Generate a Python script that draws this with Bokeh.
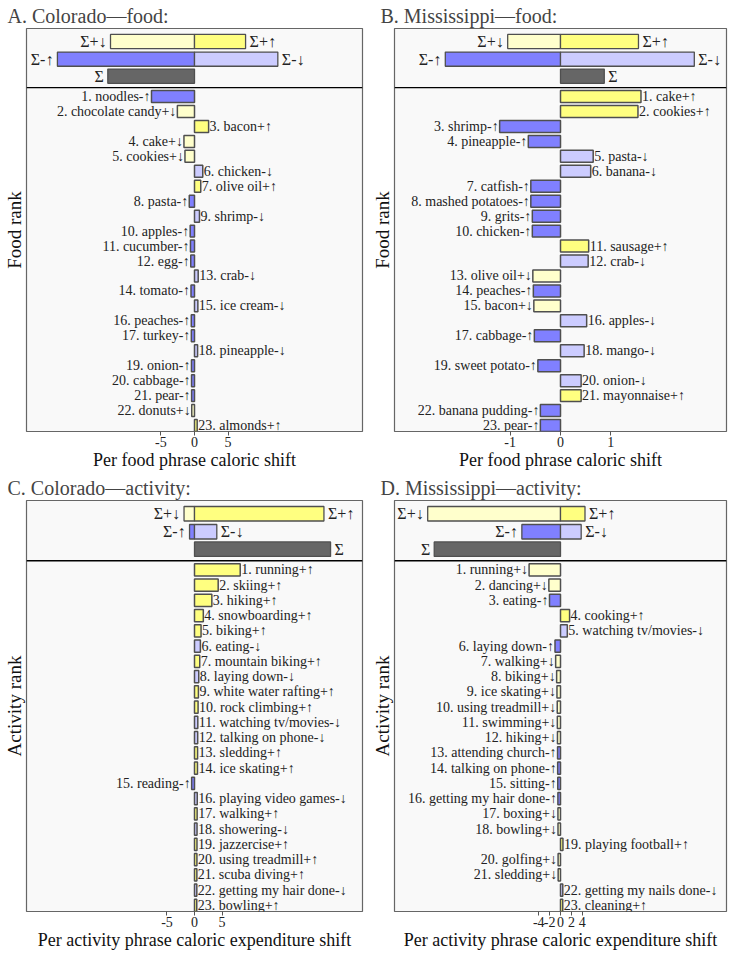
from bokeh.plotting import figure
from bokeh.models import Range1d, FixedTicker, Span, ColumnDataSource
from bokeh.layouts import column, row
from bokeh.embed import file_html
from bokeh.resources import INLINE
from bokeh.core.properties import value

# ---------------- data ----------------
# Panel A: Colorado - food
a_items = ["noodles-↑", "chocolate candy+↓", "bacon+↑", "cake+↓", "cookies+↓", "chicken-↓",
           "olive oil+↑", "pasta-↑", "shrimp-↓", "apples-↑", "cucumber-↑", "egg-↑", "crab-↓",
           "tomato-↑", "ice cream-↓", "peaches-↑", "turkey-↑", "pineapple-↓", "onion-↑",
           "cabbage-↑", "pear-↑", "donuts+↓", "almonds+↑"]
a_vals = [-6.4, -2.55, 2.1, -1.57, -1.42, 1.23, 0.93, -0.78, 0.74, -0.64, -0.6, -0.56, 0.55,
          -0.52, 0.5, -0.48, -0.47, 0.46, -0.45, -0.44, -0.43, -0.41, 0.4]
a_sum = {"Σ+↓": -12.5, "Σ+↑": 7.6, "Σ-↑": -20.4, "Σ-↓": 12.4, "Σ": -12.9}
a_ticks = [-5, 0, 5]

# Panel B: Mississippi - food
b_items = ["cake+↑", "cookies+↑", "shrimp-↑", "pineapple-↑", "pasta-↓", "banana-↓", "catfish-↑",
           "mashed potatoes-↑", "grits-↑", "chicken-↑", "sausage+↑", "crab-↓", "olive oil+↓",
           "peaches-↑", "bacon+↓", "apples-↓", "cabbage-↑", "mango-↓", "sweet potato-↑",
           "onion-↓", "mayonnaise+↑", "banana pudding-↑", "pear-↑"]
b_vals = [1.6, 1.54, -1.21, -0.64, 0.65, 0.6, -0.59, -0.59, -0.56, -0.56, 0.56, 0.55, -0.55,
          -0.54, -0.53, 0.52, -0.52, 0.47, -0.45, 0.41, 0.41, -0.4, -0.4]
b_sum = {"Σ+↓": -1.05, "Σ+↑": 1.55, "Σ-↑": -2.29, "Σ-↓": 2.66, "Σ": 0.87}
b_ticks = [-1, 0, 1]

# Panel C: Colorado - activity
c_items = ["running+↑", "skiing+↑", "hiking+↑", "snowboarding+↑", "biking+↑", "eating-↓",
           "mountain biking+↑", "laying down-↓", "white water rafting+↑", "rock climbing+↑",
           "watching tv/movies-↓", "talking on phone-↓", "sledding+↑", "ice skating+↑",
           "reading-↑", "playing video games-↓", "walking+↑", "showering-↓", "jazzercise+↑",
           "using treadmill+↑", "scuba diving+↑", "getting my hair done-↓", "bowling+↑"]
c_vals = [8.3, 4.3, 3.15, 1.6, 1.19, 1.07, 0.95, 0.77, 0.71, 0.65, 0.6, 0.58, 0.56, 0.54,
          -0.52, 0.5, 0.48, 0.46, 0.45, 0.44, 0.43, 0.42, 0.41]
c_sum = {"Σ+↓": -1.9, "Σ+↑": 23.5, "Σ-↑": -0.9, "Σ-↓": 4.05, "Σ": 24.7}
c_ticks = [-5, 0, 5]

# Panel D: Mississippi - activity
d_items = ["running+↓", "dancing+↓", "eating-↑", "cooking+↑", "watching tv/movies-↓",
           "laying down-↑", "walking+↓", "biking+↓", "ice skating+↓", "using treadmill+↓",
           "swimming+↓", "hiking+↓", "attending church-↑", "talking on phone-↑", "sitting-↑",
           "getting my hair done-↑", "boxing+↓", "bowling+↓", "playing football+↑",
           "golfing+↓", "sledding+↓", "getting my nails done-↓", "cleaning+↑"]
d_vals = [-5.77, -2.14, -2.02, 1.67, 1.25, -1.01, -0.89, -0.71, -0.65, -0.6, -0.58, -0.56,
          -0.54, -0.52, -0.5, -0.48, -0.47, -0.46, 0.45, -0.44, -0.43, 0.42, 0.41]
d_sum = {"Σ+↓": -24.4, "Σ+↑": 4.5, "Σ-↑": -7.1, "Σ-↓": 3.8, "Σ": -23.2}
d_ticks = [-4, -2, 0, 2, 4]

titles = ["A. Colorado—food:", "B. Mississippi—food:", "C. Colorado—activity:", "D. Mississippi—activity:"]
xlabels = ["Per food phrase caloric shift", "Per food phrase caloric shift",
           "Per activity phrase caloric expenditure shift", "Per activity phrase caloric expenditure shift"]
ylabels = ["Food rank", "Food rank", "Activity rank", "Activity rank"]
xlims = [25.0, 3.3, 30.5, 30.5]

# ---------------- style ----------------
FONT = "'Liberation Serif', 'DejaVu Serif', serif"
BASE = {"+↑": "#ffff80", "+↓": "#ffffcc", "-↑": "#8080ff", "-↓": "#ccccff", "Σ": "#666666"}
EDGE = "#4f4f4f"

Y_TOP, Y_BOT = 3.55, -23.4
Y_SPLUS, Y_SMINUS, Y_SIG, Y_DIV = 2.68, 1.5, 0.36, -0.4


def panel(title, items, vals, sums, ticks, xlim, xlabel, ylabel, left_border, title_off, height):
    p = figure(width=364, height=height, output_backend="svg", toolbar_location=None,
               x_range=Range1d(-xlim, xlim), y_range=Range1d(Y_BOT, Y_TOP),
               min_border_left=left_border, min_border_right=2, min_border_top=2,
               min_border_bottom=0)
    p.title.text = title
    p.title.text_font = FONT
    p.title.text_font_size = "20px"
    p.title.text_font_style = "normal"
    p.title.offset = title_off
    p.title.standoff = 4
    p.grid.visible = False
    p.background_fill_color = "#f9f9f9"
    p.border_fill_color = "white"
    p.outline_line_color = "#666666"
    p.outline_line_width = 1.2

    xa = p.xaxis[0]
    xa.ticker = FixedTicker(ticks=ticks)
    xa.major_label_overrides = {t: str(t) for t in ticks}
    xa.axis_line_color = None
    xa.major_tick_line_color = "#555555"
    xa.major_tick_out = 4
    xa.major_tick_in = 0
    xa.minor_tick_line_color = None
    xa.major_label_text_font = FONT
    xa.major_label_text_font_size = "14px"
    xa.major_label_text_color = "#222222"
    xa.major_label_standoff = 1
    xa.axis_label = xlabel
    xa.axis_label_text_font = FONT
    xa.axis_label_text_font_size = "18px"
    xa.axis_label_text_font_style = "normal"
    xa.axis_label_text_color = "#111111"
    xa.axis_label_standoff = 0

    ya = p.yaxis[0]
    ya.ticker = FixedTicker(ticks=[])
    ya.axis_line_color = None
    ya.major_tick_line_color = None
    ya.minor_tick_line_color = None
    ya.axis_label = ylabel
    ya.axis_label_text_font = FONT
    ya.axis_label_text_font_size = "19px"
    ya.axis_label_text_font_style = "normal"
    ya.axis_label_text_color = "#111111"
    ya.axis_label_standoff = 2

    n = len(items)
    ranks = list(range(1, n + 1))
    colors = [BASE[it[-2:]] for it in items]
    ys = [-r for r in ranks]
    src = ColumnDataSource(dict(y=ys, right=vals, left=[0] * n, color=colors))
    p.hbar(y="y", left="left", right="right", height=0.8, fill_color="color",
           line_color=EDGE, line_width=1.5, source=src)

    labels = [f"{r}. {it}" for r, it in zip(ranks, items)]
    pos = [i for i in range(n) if vals[i] >= 0]
    neg = [i for i in range(n) if vals[i] < 0]
    for idx, align, off in ((pos, "left", 1), (neg, "right", -1)):
        s = ColumnDataSource(dict(x=[vals[i] for i in idx], y=[ys[i] for i in idx],
                                  t=[labels[i] for i in idx]))
        p.text(x="x", y="y", text="t", source=s, text_align=align, text_baseline="middle",
               x_offset=off, text_font=value(FONT), text_font_size="14px", text_color="#222222")

    # summary bars
    skeys = ["Σ+↓", "Σ+↑", "Σ-↑", "Σ-↓", "Σ"]
    sy = [Y_SPLUS, Y_SPLUS, Y_SMINUS, Y_SMINUS, Y_SIG]
    sv = [sums[k] for k in skeys]
    scol = [BASE[k[1:]] if k != "Σ" else BASE["Σ"] for k in skeys]
    ss = ColumnDataSource(dict(y=sy, right=sv, left=[0] * 5, color=scol))
    p.hbar(y="y", left="left", right="right", height=0.95, fill_color="color",
           line_color=EDGE, line_width=1.3, source=ss)
    spos = [i for i in range(5) if sv[i] >= 0]
    sneg = [i for i in range(5) if sv[i] < 0]
    for idx, align, off in ((spos, "left", 4), (sneg, "right", -4)):
        s = ColumnDataSource(dict(x=[sv[i] for i in idx], y=[sy[i] for i in idx],
                                  t=[skeys[i] for i in idx]))
        p.text(x="x", y="y", text="t", source=s, text_align=align, text_baseline="middle",
               x_offset=off, text_font=value(FONT), text_font_size="16px", text_color="#222222")

    p.add_layout(Span(location=Y_DIV, dimension="width", line_color="black", line_width=1.3))
    return p


data = [(a_items, a_vals, a_sum, a_ticks), (b_items, b_vals, b_sum, b_ticks),
        (c_items, c_vals, c_sum, c_ticks), (d_items, d_vals, d_sum, d_ticks)]
left_borders = [2, 30, 2, 30]
title_offsets = [-19, -14, -19, -14]
heights = [472, 472, 480, 480]
figs = [panel(titles[i], *data[i][:3], data[i][3], xlims[i], xlabels[i], ylabels[i],
              left_borders[i], title_offsets[i], heights[i]) for i in range(4)]

layout = column(row(figs[0], figs[1]), row(figs[2], figs[3]))
open("out.html", "w").write(file_html(layout, INLINE))
